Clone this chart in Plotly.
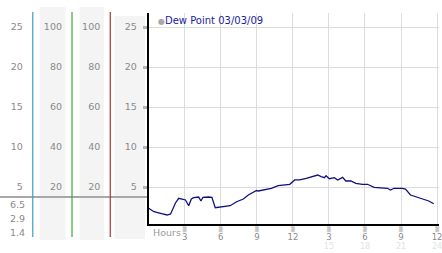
import plotly.graph_objects as go

# ---------------- data ----------------
hours = [0, 0.44, 0.99, 1.54, 1.82, 2.03, 2.23, 2.5, 2.78, 3.06, 3.33, 3.55, 3.74,
         4.16, 4.35, 4.51, 4.98, 5.26, 5.54, 5.81, 6.08, 6.78, 7.32, 7.88, 8.29,
         8.98, 9.12, 9.6, 10.21, 10.77, 11.74, 12.15, 12.56, 13.11, 13.66, 14.07,
         14.35, 14.63, 14.76, 15.04, 15.45, 15.73, 16.14, 16.41, 16.83, 17.24,
         17.79, 18.21, 18.76, 19.86, 20.13, 20.41, 21.1, 21.37, 21.79, 22.34,
         22.89, 23.31, 23.72]
dew_point = [2.34, 1.91, 1.71, 1.5, 1.63, 2.38, 3.0, 3.59, 3.46, 3.38, 2.66, 3.5, 3.66,
             3.75, 3.25, 3.71, 3.75, 3.71, 2.41, 2.46, 2.54, 2.66, 3.16, 3.5, 4.0,
             4.56, 4.5, 4.62, 4.84, 5.16, 5.34, 5.88, 5.88, 6.09, 6.29, 6.5,
             6.29, 6.16, 6.41, 6.04, 6.16, 5.88, 6.21, 5.75, 5.75, 5.46,
             5.34, 5.34, 4.95, 4.84, 4.63, 4.84, 4.84, 4.75, 4.0, 3.71,
             3.46, 3.25, 2.9]
series_name = "Dew Point 03/03/09"

y_ticks = [5, 10, 15, 20, 25]
temp_labels = ["5", "10", "15", "20", "25"]
pct_labels = ["20", "40", "60", "80", "100"]
x_ticks = [3, 6, 9, 12, 15, 18, 21, 24]
x_labels = ["3", "6", "9", "12", "3", "6", "9", "12"]
pm_ticks = [15, 18, 21, 24]
pm_labels = ["15", "18", "21", "24"]
stats_labels = ["6.5", "2.9", "1.4"]
x_title = "Hours"

# ---------------- geometry helpers ----------------
W, H = 442, 253
ML, MR, MT, MB = 0, 0, 13, 29
PW, PH = W - ML - MR, H - MT - MB


def px(x):
    return (x - ML) / PW


def py(y):
    return (H - MB - y) / PH


X0 = 149.7
x_range = [0, 24.16]
y_range = [0.375, 26.75]
FONT = "DejaVu Sans"
GRAY = "#8a8a8a"

fig = go.Figure()
fig.add_trace(go.Scatter(x=hours, y=dew_point, mode="lines",
                         line=dict(color="#10107e", width=1.3),
                         showlegend=False, hoverinfo="skip"))
# empty traces so overlay axes are drawn
for xa, ya in [("x2", "y"), ("x3", "y"), ("x", "y2"), ("x", "y3"), ("x", "y4")]:
    fig.add_trace(go.Scatter(x=[None], y=[None], xaxis=xa, yaxis=ya,
                             showlegend=False, hoverinfo="skip"))

common_x = dict(domain=[px(X0), 1], range=x_range, zeroline=False, fixedrange=True,
                ticklabeloverflow="allow")
common_y = dict(domain=[0, 1], range=y_range, zeroline=False, fixedrange=True,
                tickvals=y_ticks, showgrid=False, ticks="",
                tickfont=dict(family=FONT, size=9.5, color=GRAY))

fig.update_layout(
    width=W, height=H,
    margin=dict(l=ML, r=MR, t=MT, b=MB),
    paper_bgcolor="white", plot_bgcolor="white",
    showlegend=False, hovermode=False,
    font=dict(family=FONT, size=9.5, color=GRAY),
    xaxis=dict(**common_x, anchor="y", tickvals=x_ticks, ticktext=x_labels,
               showgrid=True, gridcolor="#dcdcdc", gridwidth=1,
               showline=True, linecolor="black", linewidth=2, ticks="",
               tickfont=dict(family=FONT, size=8.5, color=GRAY),
               ticklabelstandoff=4),
    xaxis2=dict(**common_x, anchor="y", overlaying="x", side="bottom",
                tickvals=pm_ticks, ticktext=pm_labels, showgrid=False,
                showline=False, ticks="",
                tickfont=dict(family=FONT, size=8, color="#e2e2e2"),
                ticklabelstandoff=16),
    xaxis3=dict(**common_x, anchor="y", overlaying="x", side="bottom",
                tickvals=x_ticks, ticktext=["▒"] * len(x_ticks), showgrid=False,
                showline=False, ticks="",
                tickfont=dict(family=FONT, size=5, color="#a0a0a0"),
                ticklabelstandoff=1),
    yaxis=dict(**{k: v for k, v in common_y.items() if k not in ("showgrid", "ticks")},
               anchor="x", ticktext=temp_labels, showgrid=True,
               gridcolor="#dcdcdc", gridwidth=1, showline=True,
               linecolor="black", linewidth=2, ticks="outside", ticklen=4,
               tickwidth=3, tickcolor="#b4b4b4", ticklabelstandoff=4),
    yaxis2=dict(**common_y, anchor="free", overlaying="y", position=px(33),
                ticktext=temp_labels, ticklabelstandoff=10),
    yaxis3=dict(**common_y, anchor="free", overlaying="y", position=px(72.5),
                ticktext=pct_labels, ticklabelstandoff=10),
    yaxis4=dict(**common_y, anchor="free", overlaying="y", position=px(111),
                ticktext=pct_labels, ticklabelstandoff=10),
)

shapes = []
for x_a, x_b, y_a, y_b in [(40, 66, 7, 240), (80, 105, 7, 240), (115, 146, 16, 239)]:
    shapes.append(dict(type="rect", xref="paper", yref="paper",
                       x0=px(x_a), x1=px(x_b), y0=py(y_b), y1=py(y_a),
                       fillcolor="#f4f4f4", line=dict(width=0), layer="below"))
shapes.append(dict(type="line", xref="paper", yref="paper", x0=0, x1=px(148),
                   y0=py(197), y1=py(197), line=dict(color="#a8a8a8", width=2)))
for xc, col in [(33, "#3a9ec6"), (72.5, "#3aaa3a"), (111, "#b23030")]:
    shapes.append(dict(type="line", xref="paper", yref="paper", x0=px(xc), x1=px(xc),
                       y0=py(237), y1=py(12), line=dict(color=col, width=1.2)))
fig.update_layout(shapes=shapes)

ann = [
    dict(xref="paper", yref="paper", x=px(157), y=py(20), xanchor="left",
         yanchor="middle", showarrow=False,
         text="<span style='color:#a8a8a8;font-size:8px'>●</span>" + series_name,
         font=dict(family=FONT, size=10, color="#1c1ca0")),
    dict(xref="paper", yref="paper", x=px(152), y=py(232), xanchor="left",
         yanchor="middle", showarrow=False, text=x_title,
         font=dict(family=FONT, size=9.5, color="#9a9a9a")),
]
for i, s in enumerate(stats_labels):
    ann.append(dict(xref="paper", yref="paper", x=px(27), y=py(204 + 14 * i),
                    xanchor="right", yanchor="middle", showarrow=False, text=s,
                    font=dict(family=FONT, size=9.5, color=GRAY)))
fig.update_layout(annotations=ann)

fig.write_html("out.html")
